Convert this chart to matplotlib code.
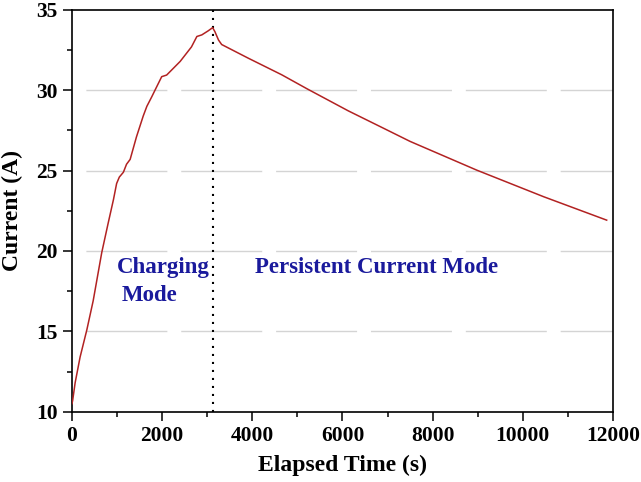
import numpy as np
import matplotlib
matplotlib.use('Agg')
import matplotlib.pyplot as plt
from matplotlib.ticker import MultipleLocator

# current vs elapsed time
time = [0, 15, 70, 180, 330, 470, 660, 800, 920, 990, 1050, 1140, 1210, 1290,
        1430, 1580, 1660, 1770, 1840, 1990, 2100, 2400, 2650, 2770, 2880, 3020,
        3120, 3170, 3250, 3320, 3910, 4650, 5210, 6130, 6910, 7500, 8980,
        10460, 11860]
current = [10.5, 10.7, 11.8, 13.4, 15.1, 16.9, 19.9, 21.7, 23.2, 24.2, 24.6,
           24.9, 25.4, 25.7, 27.1, 28.4, 29.0, 29.6, 30.0, 30.85, 30.95, 31.8,
           32.7, 33.35, 33.45, 33.7, 33.9, 33.65, 33.13, 32.85, 32.0, 30.97,
           30.1, 28.72, 27.64, 26.82, 25.03, 23.38, 21.92]
switch_time = 3120
grid_levels = [15, 20, 25, 30]

plt.rcParams['font.family'] = 'Liberation Serif'
plt.rcParams['font.weight'] = 'bold'

fig = plt.figure(figsize=(6.41, 4.82), dpi=100)
ax = fig.add_axes([0.1123, 0.1459, 0.8440, 0.8334])

# light gray long-dash grid, starting with a gap at the left spine
for g in grid_levels:
    ax.axhline(g, color='#d4d4d4', linewidth=1.0, linestyle=(58.3, (58.3, 10.0)), zorder=1)

ax.plot(time, current, color='#b22222', linewidth=1.1, zorder=3)
ax.axvline(switch_time, color='black', linewidth=1.5, linestyle=(0, (1, 2.84)), zorder=2)

blue = '#1a1a9c'
ax.text(1000, 18.6, 'Charging', color=blue, fontsize=16.5, fontweight='bold')
ax.text(1110, 16.9, 'Mode', color=blue, fontsize=16.5, fontweight='bold')
ax.text(4060, 18.6, 'Persistent Current Mode', color=blue, fontsize=16.5, fontweight='bold')

ax.set_xlim(0, 12000)
ax.set_ylim(10, 35)
ax.xaxis.set_major_locator(MultipleLocator(2000))
ax.xaxis.set_minor_locator(MultipleLocator(1000))
ax.yaxis.set_major_locator(MultipleLocator(5))
ax.yaxis.set_minor_locator(MultipleLocator(2.5))
ax.tick_params(which='both', direction='out', width=1.1, labelsize=15.5)
ax.tick_params(which='major', length=6.5, pad=4)
ax.tick_params(which='minor', length=3.6)
for s in ax.spines.values():
    s.set_linewidth(1.2)

ax.set_xlabel('Elapsed Time (s)', fontsize=17, fontweight='bold', labelpad=6)
ax.set_ylabel('Current (A)', fontsize=17, fontweight='bold', labelpad=9)

fig.savefig('out.png', dpi=100)
